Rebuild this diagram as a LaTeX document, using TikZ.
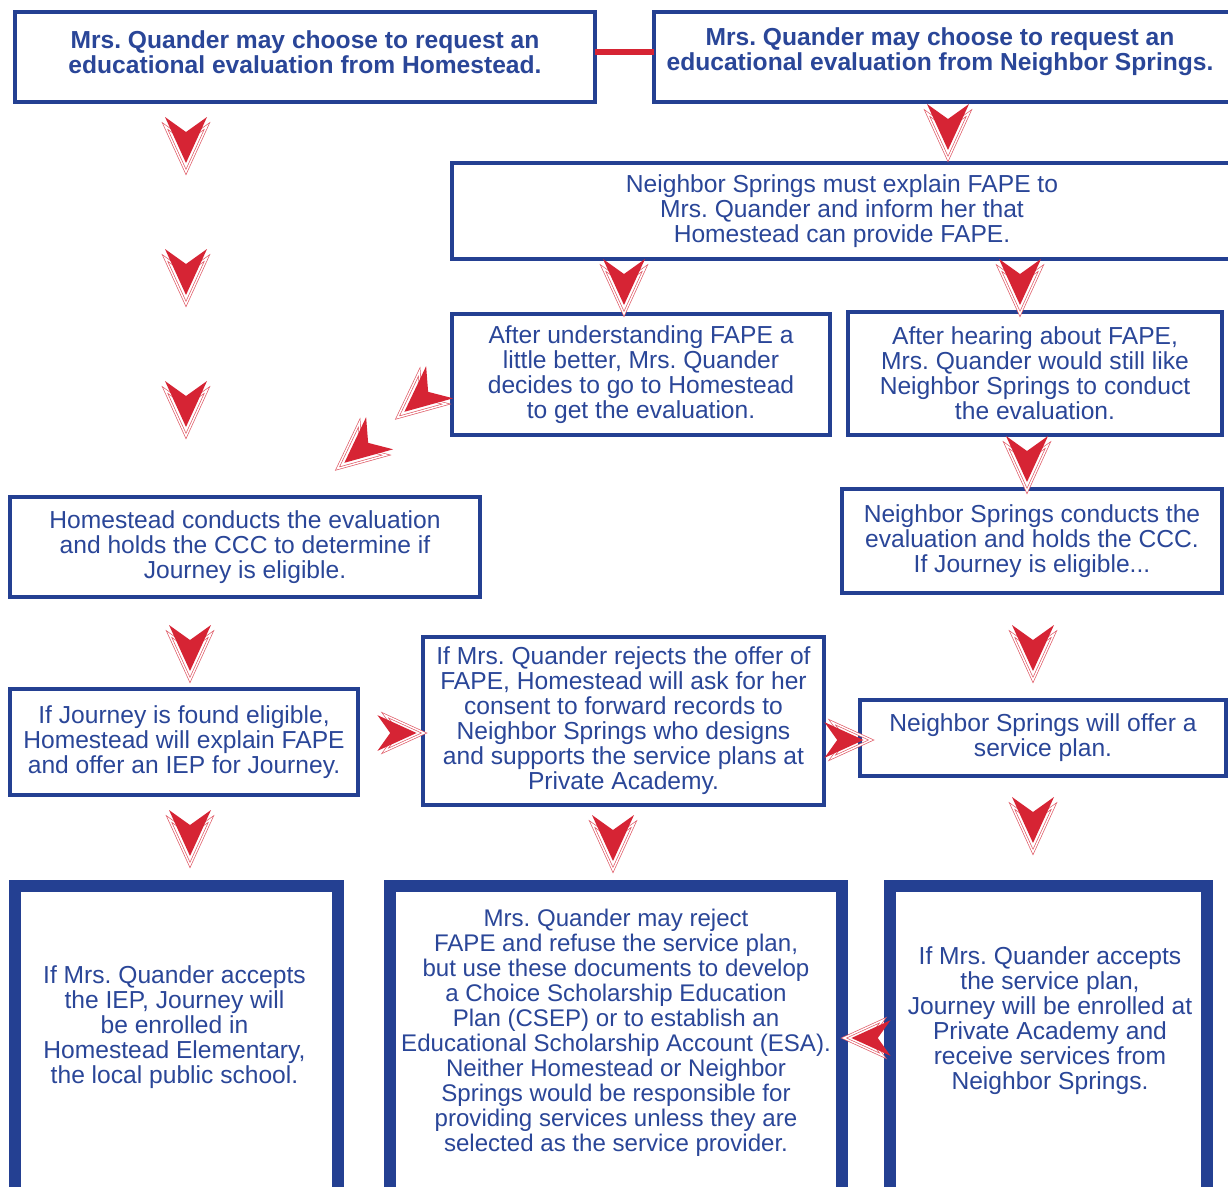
\documentclass[tikz,border=0pt]{standalone}
\usepackage{fontspec}
\setmainfont{Liberation Sans}
\usetikzlibrary{positioning,calc}
\frenchspacing

\definecolor{qblue}{RGB}{36,64,146}
\definecolor{qtext}{RGB}{42,70,152}
\definecolor{qred}{RGB}{214,36,52}

\tikzset{
  flowbox/.style={rectangle, draw=qblue, line width=2.8pt, fill=white, align=center, text=qtext, font=\fontsize{14}{14.2}\selectfont, inner sep=0pt},
  boldbox/.style={flowbox, draw=none, outer sep=0pt, font=\fontsize{14}{14.2}\selectfont\bfseries},
  openbox/.style={draw=qblue, line width=2.8pt},
  endbox/.style={flowbox, line width=7pt},
  endtext/.style={align=center, text=qtext, font=\fontsize{14}{14.2}\selectfont, inner sep=0pt},
  chev/.pic={
    \draw[qred!75, line width=0.4pt, double=white, double distance=0.8pt] (-0.42,0.28) -- (0,-0.64) -- (0.42,0.28) -- (0,-0.02) -- cycle;
    \fill[qred] (-0.42,0.46) -- (0,-0.46) -- (0.42,0.46) -- (0,0.16) -- cycle;
  }
}

\begin{document}
\begin{tikzpicture}
\clip (0,0) rectangle (24.56,-23.72);
\fill[white] (0,0) rectangle (24.56,-23.72);

% Requests
\node[boldbox, minimum width=11.6cm, minimum height=1.8cm] (hsreq) at (6.1,-1.04) {Mrs. Quander may choose to request an\\educational evaluation from Homestead.};
\node[boldbox, minimum width=11.44cm, minimum height=1.8cm] (nsreq) at (18.8,-1.04) {Mrs. Quander may choose to request an\\educational evaluation from Neighbor Springs.};
\draw[openbox] ([yshift=-0.1cm]hsreq.north west) rectangle ([yshift=-0.1cm]hsreq.south east);
\draw[openbox] ([yshift=-0.1cm]nsreq.north west) rectangle ([xshift=1cm, yshift=-0.1cm]nsreq.south east);
\draw[qred, line width=3pt] (hsreq.east) -- (nsreq.west);

% Neighbor Springs explains FAPE
\node[flowbox, draw=none, outer sep=0pt, minimum width=15.6cm, minimum height=1.92cm] (nsexplain) at (16.84,-4.22) {Neighbor Springs must explain FAPE to\\Mrs. Quander and inform her that\\Homestead can provide FAPE.};
\draw[openbox] (nsexplain.north west) rectangle ([xshift=1cm]nsexplain.south east);

% Decisions
\node[flowbox, minimum width=7.56cm, minimum height=2.42cm] (hsdecide) at (12.82,-7.49) {After understanding FAPE a\\little better, Mrs. Quander\\decides to go to Homestead\\to get the evaluation.};
\node[flowbox, minimum width=7.48cm, minimum height=2.46cm] (nsdecide) at (20.7,-7.47) {After hearing about FAPE,\\Mrs. Quander would still like\\Neighbor Springs to conduct\\the evaluation.};

% Evaluations
\node[flowbox, minimum width=9.4cm, minimum height=2.0cm] (hseval) at (4.9,-10.94) {Homestead conducts the evaluation\\and holds the CCC to determine if\\Journey is eligible.};
\node[flowbox, minimum width=7.6cm, minimum height=2.08cm] (nseval) at (20.64,-10.82) {Neighbor Springs conducts the\\evaluation and holds the CCC.\\If Journey is eligible...};

% Offers
\node[flowbox, minimum width=6.96cm, minimum height=2.12cm] (hsoffer) at (3.68,-14.84) {If Journey is found eligible,\\Homestead will explain FAPE\\and offer an IEP for Journey.};
\node[flowbox, minimum width=8.02cm, minimum height=3.36cm] (hsreject) at (12.47,-14.42) {If Mrs. Quander rejects the offer of\\FAPE, Homestead will ask for her\\consent to forward records to\\Neighbor Springs who designs\\and supports the service plans at\\Private Academy.};
\node[flowbox, minimum width=7.32cm, minimum height=1.52cm] (nsoffer) at (20.86,-14.76) {Neighbor Springs will offer a\\service plan.};

% Outcomes
\node[endbox, minimum width=6.46cm, minimum height=6.28cm] (hsend) at (3.53,-20.86) {};
\node[endbox, minimum width=9.04cm, minimum height=6.28cm] (csend) at (12.32,-20.86) {};
\node[endbox, minimum width=6.34cm, minimum height=6.28cm] (nsend) at (20.97,-20.86) {};
\node[endtext] (hsendtext) at (3.49,-20.54) {If Mrs. Quander accepts\\the IEP, Journey will\\be enrolled in\\Homestead Elementary,\\the local public school.};
\node[endtext, font=\fontsize{13.7}{14.2}\selectfont] (csendtext) at (12.32,-20.66) {Mrs. Quander may reject\\FAPE and refuse the service plan,\\but use these documents to develop\\a Choice Scholarship Education\\Plan (CSEP) or to establish an\\Educational Scholarship Account (ESA).\\Neither Homestead or Neighbor\\Springs would be responsible for\\providing services unless they are\\selected as the service provider.};
\node[endtext] (nsendtext) at (21.0,-20.41) {If Mrs. Quander accepts\\the service plan,\\Journey will be enrolled at\\Private Academy and\\receive services from\\Neighbor Springs.};

% Arrows
\pic at (3.72,-2.80) {chev};
\pic at (3.72,-5.44) {chev};
\pic at (3.72,-8.08) {chev};
\pic at (18.96,-2.54) {chev};
\pic at (12.48,-5.64) {chev};
\pic at (20.4,-5.64) {chev};
\pic at (20.54,-9.18) {chev};
\pic at (3.8,-12.96) {chev};
\pic at (20.66,-12.96) {chev};
\pic at (3.8,-16.66) {chev};
\pic at (12.26,-16.76) {chev};
\pic at (20.66,-16.40) {chev};
\pic[rotate=90, scale=0.85] at (7.94,-14.66) {chev};
\pic[rotate=90, scale=0.85] at (16.88,-14.8) {chev};
\pic[rotate=-90, scale=0.85] at (17.42,-20.76) {chev};
\pic[rotate=-50] at (8.44,-7.94) {chev};
\pic[rotate=-50] at (7.24,-8.96) {chev};
\end{tikzpicture}
\end{document}
